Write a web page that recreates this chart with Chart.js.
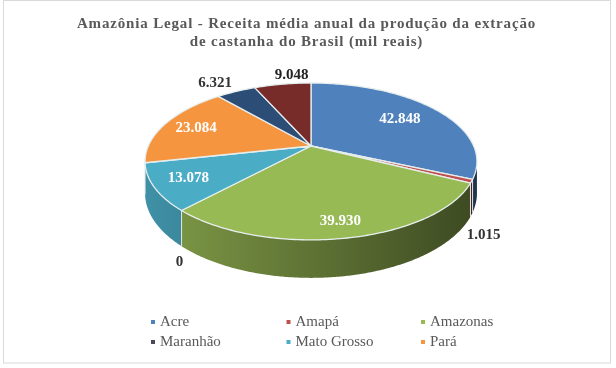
<!DOCTYPE html>
<html lang="pt-BR">
<head>
<meta charset="utf-8">
<title>Amazônia Legal</title>
<style>html,body{margin:0;padding:0;background:#fff}canvas{display:block}</style>
<script src="https://cdn.jsdelivr.net/npm/chart.js@4/dist/chart.umd.min.js"></script>
</head>
<body>
<canvas id="c" width="616" height="368"></canvas>
<script>
const categories = ['Acre','Amapá','Amazonas','Maranhão','Mato Grosso','Pará','Rondônia','Roraima'];
const values = [42848,1015,39930,0,13078,23084,6321,9048];
const legendCount = 6;
const colors = ['#4f81bd','#c0504d','#98ba55','#4a4a55','#4bacc6','#f6953f','#2c4d75','#772c2a'];
const titleLines = ['Amazônia Legal - Receita média anual da produção da extração','de castanha do Brasil (mil reais)'];
// label placement: radius > 0 sits inside the slice; radius 0 sits on the rim, shifted
const labelRadius = [0.7,0,0.85,0,0.8,0.78,0,0];
const labelShift = [[0,0],[12,54],[0,0],[-2,52],[0,0],[0,0],[-21,-8],[9,-9]];
const labelColor = ['#fff','#333','#fff','#333','#fff','#fff','#333','#222'];

const RX = 162.7, RY = 75.4, TILT = 0.197, DEPTH = 30.5, PIE_SHIFT_X = 4.5;
const SERIF = '"Liberation Serif", serif';

function project(arc, angle, r) {
  const phi = angle + Math.PI / 2;
  const u = r * Math.sin(phi), v = -r * Math.cos(phi);
  const w = 1 - TILT * v;
  return { x: arc.x + PIE_SHIFT_X + RX * u / w, y: arc.y + RY * v / w, u, v, depth: DEPTH / w };
}
function shade(hex, f) {
  const n = parseInt(hex.slice(1), 16);
  return `rgb(${Math.round((n >> 16) * f)},${Math.round(((n >> 8) & 255) * f)},${Math.round((n & 255) * f)})`;
}
const STEP = Math.PI / 180;

Chart.ArcElement.prototype.draw = function (ctx) {
  if (!this.circumference) return;
  ctx.save();
  ctx.beginPath();
  const c = project(this, this.startAngle, 0);
  ctx.moveTo(c.x, c.y);
  for (let a = this.startAngle; a < this.endAngle; a += STEP) {
    const p = project(this, a, 1);
    ctx.lineTo(p.x, p.y);
  }
  const e = project(this, this.endAngle, 1);
  ctx.lineTo(e.x, e.y);
  ctx.closePath();
  ctx.fillStyle = this.options.backgroundColor;
  ctx.fill();
  ctx.strokeStyle = this.options.borderColor;
  ctx.lineWidth = this.options.borderWidth;
  ctx.lineJoin = 'round';
  ctx.stroke();
  ctx.restore();
};

const walls = {
  id: 'walls',
  beforeDatasetsDraw(chart) {
    const { ctx } = chart;
    ctx.letterSpacing = '0px';
    const arcs = chart.getDatasetMeta(0).data;
    ctx.save();
    arcs.forEach((arc, i) => {
      if (!arc.circumference) return;
      const top = [];
      for (let a = arc.startAngle; a < arc.endAngle; a += STEP / 2) top.push(project(arc, a, 1));
      top.push(project(arc, arc.endAngle, 1));
      const front = top.filter(p => p.v > TILT - 0.02);
      if (front.length < 2) return;
      const grad = ctx.createLinearGradient(arc.x + PIE_SHIFT_X - RX, 0, arc.x + PIE_SHIFT_X + RX, 0);
      grad.addColorStop(0, shade(colors[i], 0.84));
      grad.addColorStop(1, shade(colors[i], 0.40));
      ctx.beginPath();
      front.forEach((p, k) => k ? ctx.lineTo(p.x, p.y) : ctx.moveTo(p.x, p.y));
      front.slice().reverse().forEach(p => ctx.lineTo(p.x, p.y + p.depth));
      ctx.closePath();
      ctx.fillStyle = grad;
      ctx.fill();
    });
    ctx.strokeStyle = '#dfe6e6';
    ctx.lineWidth = 1;
    arcs.forEach(arc => {
      if (!arc.circumference) return;
      const p = project(arc, arc.startAngle, 1);
      if (p.v <= TILT) return;
      ctx.beginPath();
      ctx.moveTo(p.x, p.y);
      ctx.lineTo(p.x, p.y + p.depth);
      ctx.stroke();
    });
    ctx.restore();
  }
};

const frameAndText = {
  id: 'frameAndText',
  beforeDraw(chart) {
    const { ctx } = chart;
    ctx.save();
    ctx.strokeStyle = '#d9d9d9';
    ctx.lineWidth = 1;
    ctx.strokeRect(3.5, 0.5, 607, 362.5);
    ctx.restore();
    ctx.letterSpacing = '0.83px';
  },
  afterDatasetsDraw(chart) {
    const { ctx } = chart;
    const arcs = chart.getDatasetMeta(0).data;
    ctx.save();
    ctx.font = 'bold 15px ' + SERIF;
    ctx.textAlign = 'center';
    ctx.textBaseline = 'middle';
    arcs.forEach((arc, i) => {
      const mid = arc.startAngle + (arc.endAngle - arc.startAngle) / 2;
      const p = project(arc, mid, labelRadius[i] || 1);
      ctx.fillStyle = labelColor[i];
      ctx.fillText(String(values[i]).replace(/\B(?=(\d{3})+$)/g, '.'), p.x + labelShift[i][0], p.y + labelShift[i][1]);
    });
    ctx.font = '15px ' + SERIF;
    ctx.textAlign = 'left';
    const colX = [153, 288.5, 423], rowY = [322, 342];
    categories.slice(0, legendCount).forEach((name, i) => {
      const x = colX[i % 3], y = rowY[Math.floor(i / 3)];
      ctx.fillStyle = colors[i];
      ctx.fillRect(x - 2, y - 2, 4, 4);
      ctx.fillStyle = '#595959';
      ctx.fillText(name, x + 7, y);
    });
    ctx.restore();
  }
};

new Chart(document.getElementById('c'), {
  type: 'pie',
  data: {
    labels: categories,
    datasets: [{ data: values, backgroundColor: colors, borderColor: '#e6eeee', borderWidth: 1.3 }]
  },
  options: {
    responsive: false,
    animation: false,
    layout: { padding: { left: 0, right: 3, top: 0, bottom: 136 } },
    plugins: {
      legend: { display: false },
      tooltip: { enabled: false },
      title: {
        display: true,
        text: titleLines,
        color: '#595959',
        font: { family: SERIF, size: 15, weight: 'bold', lineHeight: 1.2 },
        padding: { top: 15, bottom: 9 }
      }
    }
  },
  plugins: [walls, frameAndText]
});
</script>
</body>
</html>
